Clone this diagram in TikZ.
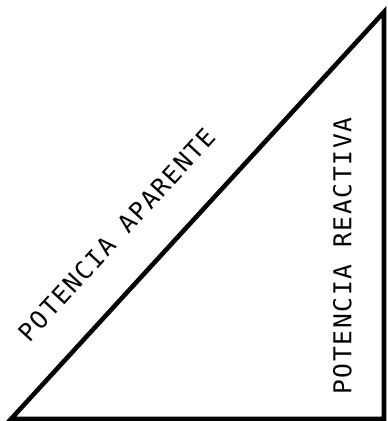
\documentclass[tikz,border=0pt]{standalone}
\usepackage{fontspec}
\newfontfamily\lettering[LetterSpace=7]{DejaVu Sans Mono}
\usetikzlibrary{calc}

\begin{document}
\begin{tikzpicture}[
  x=0.02cm, y=-0.02cm,
  side/.style={line width=2.6pt, line join=miter},
  lbl/.style={font=\lettering\fontsize{14pt}{16pt}\selectfont, inner sep=0pt, sloped}
]
\useasboundingbox (0,0) rectangle (387,421);
\coordinate (A) at (11,419);
\coordinate (B) at (384,419);
\coordinate (C) at (384,12);
\draw[side] (A) -- (B) -- (C) -- cycle;
\path (A) -- (C) node[lbl, pos=0.375, above=0.74cm] (aparente) {POTENCIA APARENTE};
\path (B) -- (C) node[lbl, pos=0.40, above=0.64cm] (reactiva) {POTENCIA REACTIVA};
\end{tikzpicture}
\end{document}
